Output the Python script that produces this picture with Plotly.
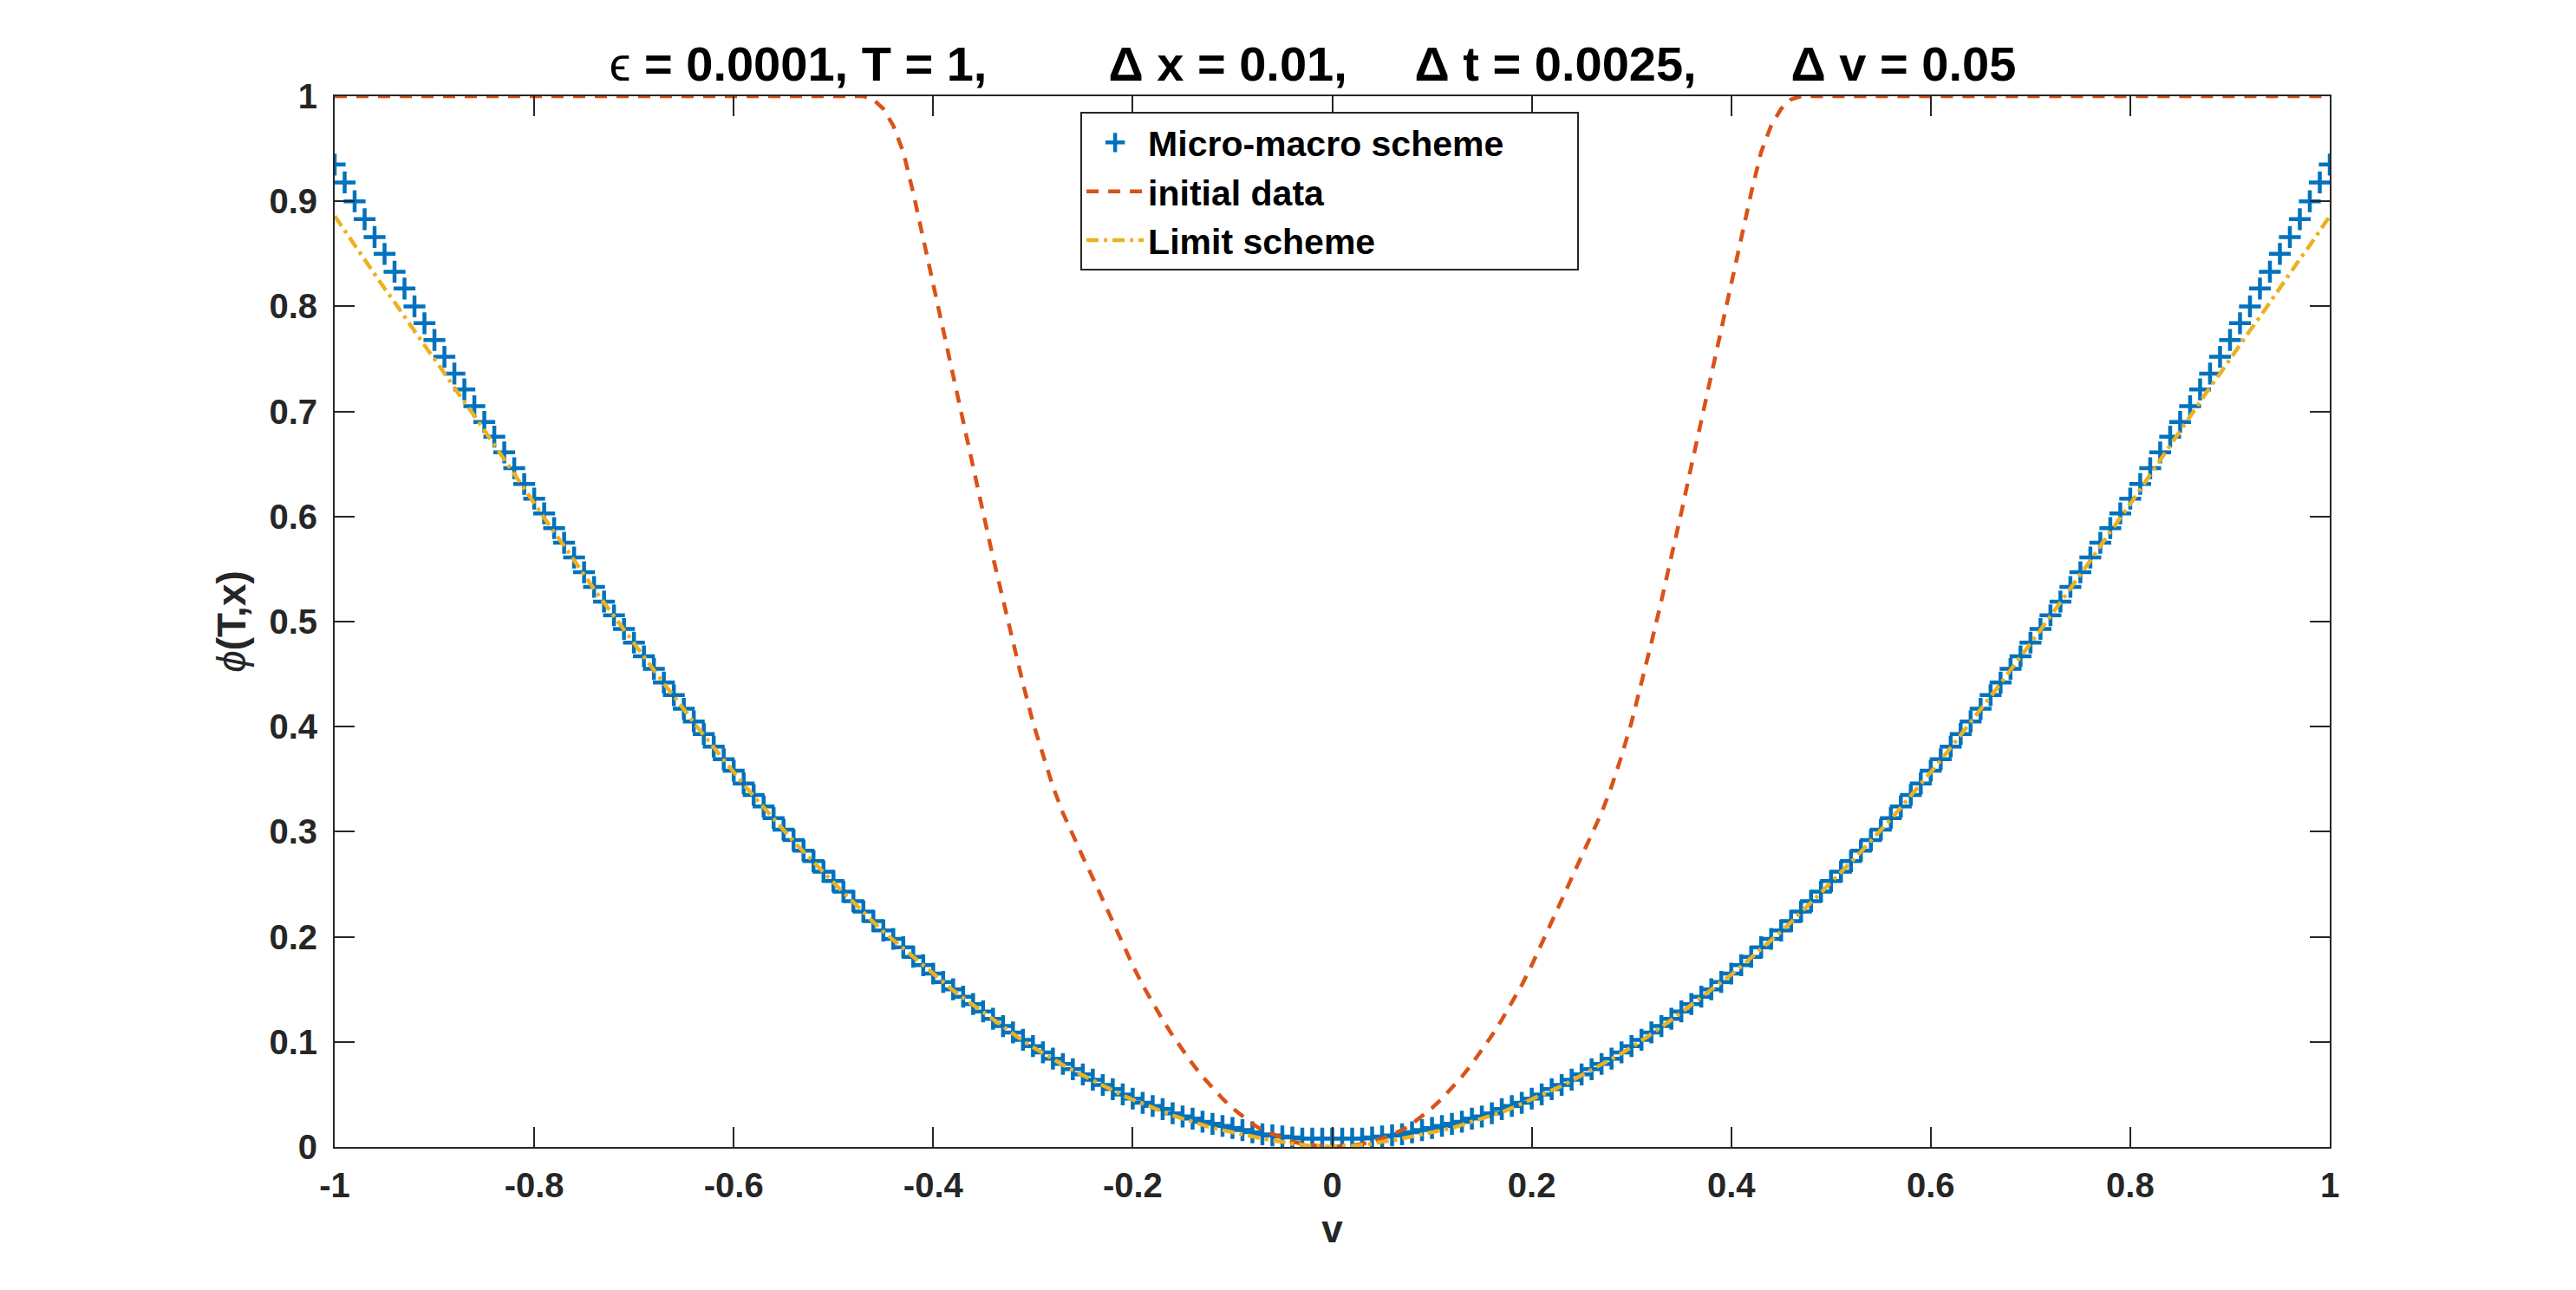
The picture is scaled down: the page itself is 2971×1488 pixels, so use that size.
import plotly.graph_objects as go

# grid in v (step 0.01)
v = [round(-1 + 0.01 * i, 2) for i in range(201)]

micro_left = [0.935, 0.918, 0.900, 0.883, 0.866, 0.850, 0.833, 0.817, 0.800, 0.784,
              0.768, 0.752, 0.736, 0.721, 0.705, 0.690, 0.676, 0.661, 0.646, 0.631,
              0.617, 0.603, 0.589, 0.575, 0.561, 0.547, 0.533, 0.519, 0.506, 0.493,
              0.480, 0.467, 0.455, 0.442, 0.430, 0.417, 0.405, 0.393, 0.381, 0.369,
              0.358, 0.346, 0.335, 0.324, 0.313, 0.302, 0.292, 0.282, 0.272, 0.262,
              0.253, 0.243, 0.234, 0.224, 0.215, 0.206, 0.198, 0.190, 0.181, 0.173,
              0.165, 0.157, 0.150, 0.143, 0.136, 0.129, 0.122, 0.115, 0.109, 0.102,
              0.096, 0.090, 0.084, 0.079, 0.074, 0.069, 0.064, 0.059, 0.055, 0.050,
              0.046, 0.042, 0.039, 0.036, 0.032, 0.029, 0.027, 0.024, 0.022, 0.020,
              0.018, 0.016, 0.014, 0.012, 0.011, 0.010, 0.009, 0.008, 0.008, 0.008,
              0.008]
micro_right = [0.008, 0.008, 0.008, 0.009, 0.010, 0.011, 0.012, 0.014, 0.016, 0.018,
               0.020, 0.022, 0.024, 0.027, 0.029, 0.032, 0.036, 0.039, 0.042, 0.046,
               0.050, 0.055, 0.059, 0.064, 0.069, 0.074, 0.079, 0.084, 0.090, 0.096,
               0.102, 0.109, 0.115, 0.122, 0.129, 0.136, 0.143, 0.150, 0.157, 0.165,
               0.173, 0.181, 0.190, 0.198, 0.206, 0.215, 0.224, 0.234, 0.243, 0.253,
               0.262, 0.272, 0.282, 0.292, 0.302, 0.313, 0.324, 0.335, 0.346, 0.358,
               0.369, 0.381, 0.393, 0.405, 0.417, 0.430, 0.442, 0.455, 0.467, 0.480,
               0.493, 0.506, 0.519, 0.533, 0.547, 0.561, 0.575, 0.589, 0.603, 0.617,
               0.631, 0.646, 0.661, 0.676, 0.690, 0.705, 0.721, 0.736, 0.752, 0.768,
               0.784, 0.800, 0.817, 0.833, 0.850, 0.866, 0.883, 0.900, 0.918, 0.935]

initial_left = [1.0] * 54 + [
    0.997, 0.988, 0.972, 0.947, 0.908, 0.864, 0.820, 0.777, 0.735, 0.692,
    0.648, 0.604, 0.561, 0.520, 0.480, 0.441, 0.404, 0.372, 0.343, 0.318,
    0.296, 0.276, 0.256, 0.235, 0.214, 0.193, 0.173, 0.154, 0.137, 0.121,
    0.106, 0.092, 0.079, 0.067, 0.056, 0.046, 0.037, 0.029, 0.022, 0.016,
    0.012, 0.008, 0.005, 0.003, 0.0015, 0.0004, 0.0]
initial_right = [
    0.0004, 0.0015, 0.003, 0.005, 0.008, 0.012, 0.016, 0.022, 0.029, 0.037,
    0.046, 0.056, 0.067, 0.079, 0.092, 0.106, 0.121, 0.137, 0.154, 0.173,
    0.193, 0.214, 0.235, 0.256, 0.276, 0.296, 0.318, 0.343, 0.372, 0.404,
    0.441, 0.480, 0.520, 0.561, 0.604, 0.648, 0.692, 0.735, 0.777, 0.820,
    0.864, 0.908, 0.947, 0.972, 0.988, 0.997] + [1.0] * 54

limit_left = [0.886, 0.872, 0.858, 0.845, 0.831, 0.817, 0.804, 0.790, 0.777, 0.763,
              0.750, 0.736, 0.723, 0.709, 0.696, 0.682, 0.668, 0.654, 0.640, 0.626,
              0.612, 0.599, 0.585, 0.572, 0.558, 0.545, 0.531, 0.518, 0.505, 0.492,
              0.479, 0.466, 0.454, 0.441, 0.429, 0.416, 0.404, 0.392, 0.380, 0.368,
              0.357, 0.345, 0.334, 0.323, 0.312, 0.301, 0.291, 0.281, 0.271, 0.261,
              0.252, 0.242, 0.233, 0.223, 0.214, 0.205, 0.197, 0.189, 0.180, 0.172,
              0.164, 0.156, 0.149, 0.142, 0.135, 0.128, 0.121, 0.114, 0.108, 0.101,
              0.095, 0.089, 0.083, 0.078, 0.073, 0.068, 0.063, 0.058, 0.053, 0.049,
              0.045, 0.041, 0.037, 0.033, 0.030, 0.027, 0.024, 0.021, 0.018, 0.016,
              0.014, 0.012, 0.010, 0.008, 0.006, 0.005, 0.003, 0.002, 0.001, 0.001,
              0.000]
limit_right = [0.001, 0.001, 0.002, 0.003, 0.005, 0.006, 0.008, 0.010, 0.012, 0.014,
               0.016, 0.018, 0.021, 0.024, 0.027, 0.030, 0.033, 0.037, 0.041, 0.045,
               0.049, 0.053, 0.058, 0.063, 0.068, 0.073, 0.078, 0.083, 0.089, 0.095,
               0.101, 0.108, 0.114, 0.121, 0.128, 0.135, 0.142, 0.149, 0.156, 0.164,
               0.172, 0.180, 0.189, 0.197, 0.205, 0.214, 0.223, 0.233, 0.242, 0.252,
               0.261, 0.271, 0.281, 0.291, 0.301, 0.312, 0.323, 0.334, 0.345, 0.357,
               0.368, 0.380, 0.392, 0.404, 0.416, 0.429, 0.441, 0.454, 0.466, 0.479,
               0.492, 0.505, 0.518, 0.531, 0.545, 0.558, 0.572, 0.585, 0.599, 0.612,
               0.626, 0.640, 0.654, 0.668, 0.682, 0.696, 0.709, 0.723, 0.736, 0.750,
               0.763, 0.777, 0.790, 0.804, 0.817, 0.831, 0.845, 0.858, 0.872, 0.886]

micro = micro_left + micro_right
initial = initial_left + initial_right
limit = limit_left + limit_right

x_ticks = [-1, -0.8, -0.6, -0.4, -0.2, 0, 0.2, 0.4, 0.6, 0.8, 1]
x_tick_labels = ["-1", "-0.8", "-0.6", "-0.4", "-0.2", "0", "0.2", "0.4", "0.6", "0.8", "1"]
y_ticks = [0, 0.1, 0.2, 0.3, 0.4, 0.5, 0.6, 0.7, 0.8, 0.9, 1]
y_tick_labels = ["0", "0.1", "0.2", "0.3", "0.4", "0.5", "0.6", "0.7", "0.8", "0.9", "1"]

FONT = "Liberation Sans"
AX = "#262626"
NB = "\u00a0"

fig = go.Figure()
fig.add_trace(go.Scatter(
    x=v, y=micro, mode="markers", name="Micro-macro scheme" + NB * 7,
    marker=dict(symbol="cross-thin", size=18, color="#0072BD",
                line=dict(width=4.5, color="#0072BD"))))
fig.add_trace(go.Scatter(
    x=v, y=initial, mode="lines", name="initial data",
    line=dict(color="#D95319", width=4.5, dash="14px,11px")))
fig.add_trace(go.Scatter(
    x=v, y=limit, mode="lines", name="Limit scheme",
    line=dict(color="#EDB120", width=4.5, dash="14px,6px,4px,6px")))

title_text = ("<span style='font-weight:normal'>ϵ</span> = 0.0001, T = 1," + NB * 9 +
              "Δ x = 0.01," + NB * 5 + "Δ t = 0.0025," + NB * 7 + "Δ v = 0.05")

axis_common = dict(
    showline=True, linecolor=AX, linewidth=2, mirror="ticks",
    ticks="inside", ticklen=23, tickwidth=1.5, tickcolor=AX,
    showgrid=False, zeroline=False,
    tickfont=dict(family=FONT, size=40, color=AX, weight="bold"),
)

fig.update_layout(
    width=2971, height=1488,
    paper_bgcolor="white", plot_bgcolor="white",
    margin=dict(l=386, r=284, t=111, b=165, autoexpand=False),
    title=dict(text=title_text, x=0.5096, xanchor="center", y=0.951, yanchor="middle",
               font=dict(family=FONT, size=56, color="black", weight="bold")),
    xaxis=dict(range=[-1, 1], tickvals=x_ticks, ticktext=x_tick_labels,
               title=dict(text="v", standoff=14,
                          font=dict(family=FONT, size=44, color=AX, weight="bold")),
               ticklabelstandoff=8, **axis_common),
    yaxis=dict(range=[0, 1], tickvals=y_ticks, ticktext=y_tick_labels,
               title=dict(text="<span style='font-weight:normal'><i>ϕ</i></span>(T,x)", standoff=12,
                          font=dict(family=FONT, size=46, color=AX, weight="bold")),
               ticklabelstandoff=10, **axis_common),
    legend=dict(x=0.3738, y=0.985, xanchor="left", yanchor="top",
                bgcolor="white", bordercolor=AX, borderwidth=2,
                font=dict(family=FONT, size=41, color="black", weight="bold"),
                itemwidth=66, tracegroupgap=0),
    showlegend=True,
)

fig.write_html("out.html")
